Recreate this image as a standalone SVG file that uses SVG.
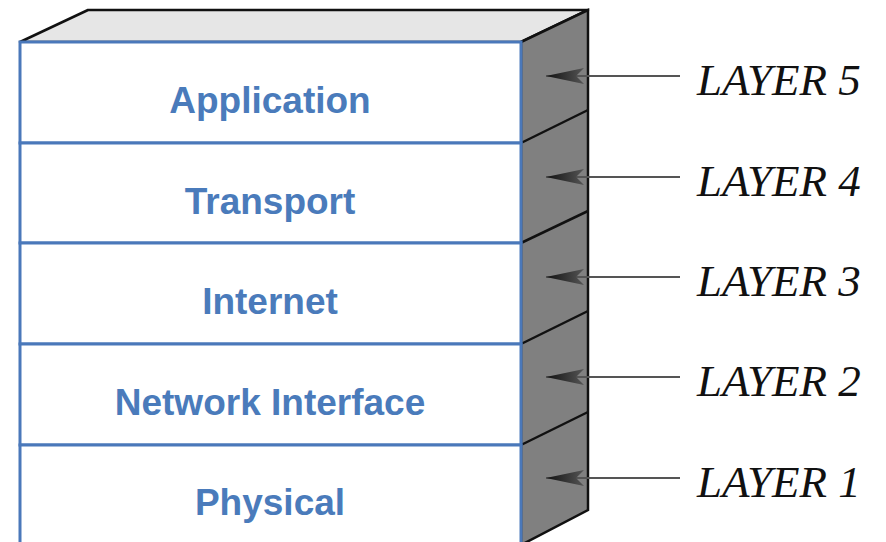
<svg xmlns="http://www.w3.org/2000/svg" width="886" height="542" viewBox="0 0 886 542">
<style>
.front{fill:#fff;stroke:#4a78ba;stroke-width:3}
.lbl{font-family:"Liberation Sans",Arial,sans-serif;font-weight:bold;font-size:37px;fill:#4a7bbb;text-anchor:middle}
.lay{font-family:"Liberation Serif","Times New Roman",serif;font-style:italic;font-size:45px;fill:#111}
.edge{stroke:#111;stroke-width:2.5;fill:none}
.conn{stroke:#555;stroke-width:2;fill:none}
</style>
<defs>
<linearGradient id="ag" x1="0" y1="0" x2="1" y2="0">
<stop offset="0" stop-color="#555"/><stop offset="1" stop-color="#111"/>
</linearGradient>
<marker id="ah" markerUnits="userSpaceOnUse" markerWidth="40" markerHeight="20" refX="40" refY="10" orient="auto" viewBox="0 0 40 20">
<path d="M40,10 L2,2 L10,10 L2,18 Z" fill="url(#ag)"/>
</marker>
</defs>
<g id="cube">
<polygon points="20,42 88,10 588,10 521,42" fill="#e6e6e6" stroke="#111" stroke-width="2.5" stroke-linejoin="round"/>
<polygon points="521,42 588,10 588,510 521,545" fill="#808080" stroke="#111" stroke-width="2.5"/>
<line class="edge" x1="521" y1="143" x2="588" y2="110"/>
<line class="edge" x1="521" y1="243" x2="588" y2="211"/>
<line class="edge" x1="521" y1="344" x2="588" y2="311"/>
<line class="edge" x1="521" y1="445" x2="588" y2="412"/>
</g>
<g id="application"><rect class="front" x="20" y="42" width="501" height="101"/><text class="lbl" x="270" y="113">Application</text></g>
<g id="transport"><rect class="front" x="20" y="143" width="501" height="100"/><text class="lbl" x="270" y="214">Transport</text></g>
<g id="internet"><rect class="front" x="20" y="243" width="501" height="101"/><text class="lbl" x="270" y="314">Internet</text></g>
<g id="network-interface"><rect class="front" x="20" y="344" width="501" height="101"/><text class="lbl" x="270" y="415">Network Interface</text></g>
<g id="physical"><rect class="front" x="20" y="445" width="501" height="110"/><text class="lbl" x="270" y="515">Physical</text></g>
<g id="connectors">
<line class="conn" x1="680" y1="76" x2="546" y2="76" marker-end="url(#ah)"/>
<line class="conn" x1="680" y1="177" x2="546" y2="177" marker-end="url(#ah)"/>
<line class="conn" x1="680" y1="277" x2="546" y2="277" marker-end="url(#ah)"/>
<line class="conn" x1="680" y1="377" x2="546" y2="377" marker-end="url(#ah)"/>
<line class="conn" x1="680" y1="478" x2="546" y2="478" marker-end="url(#ah)"/>
</g>
<g id="labels">
<text class="lay" x="697" y="95">LAYER 5</text>
<text class="lay" x="697" y="196">LAYER 4</text>
<text class="lay" x="697" y="296">LAYER 3</text>
<text class="lay" x="697" y="396">LAYER 2</text>
<text class="lay" x="697" y="497">LAYER 1</text>
</g>
</svg>
